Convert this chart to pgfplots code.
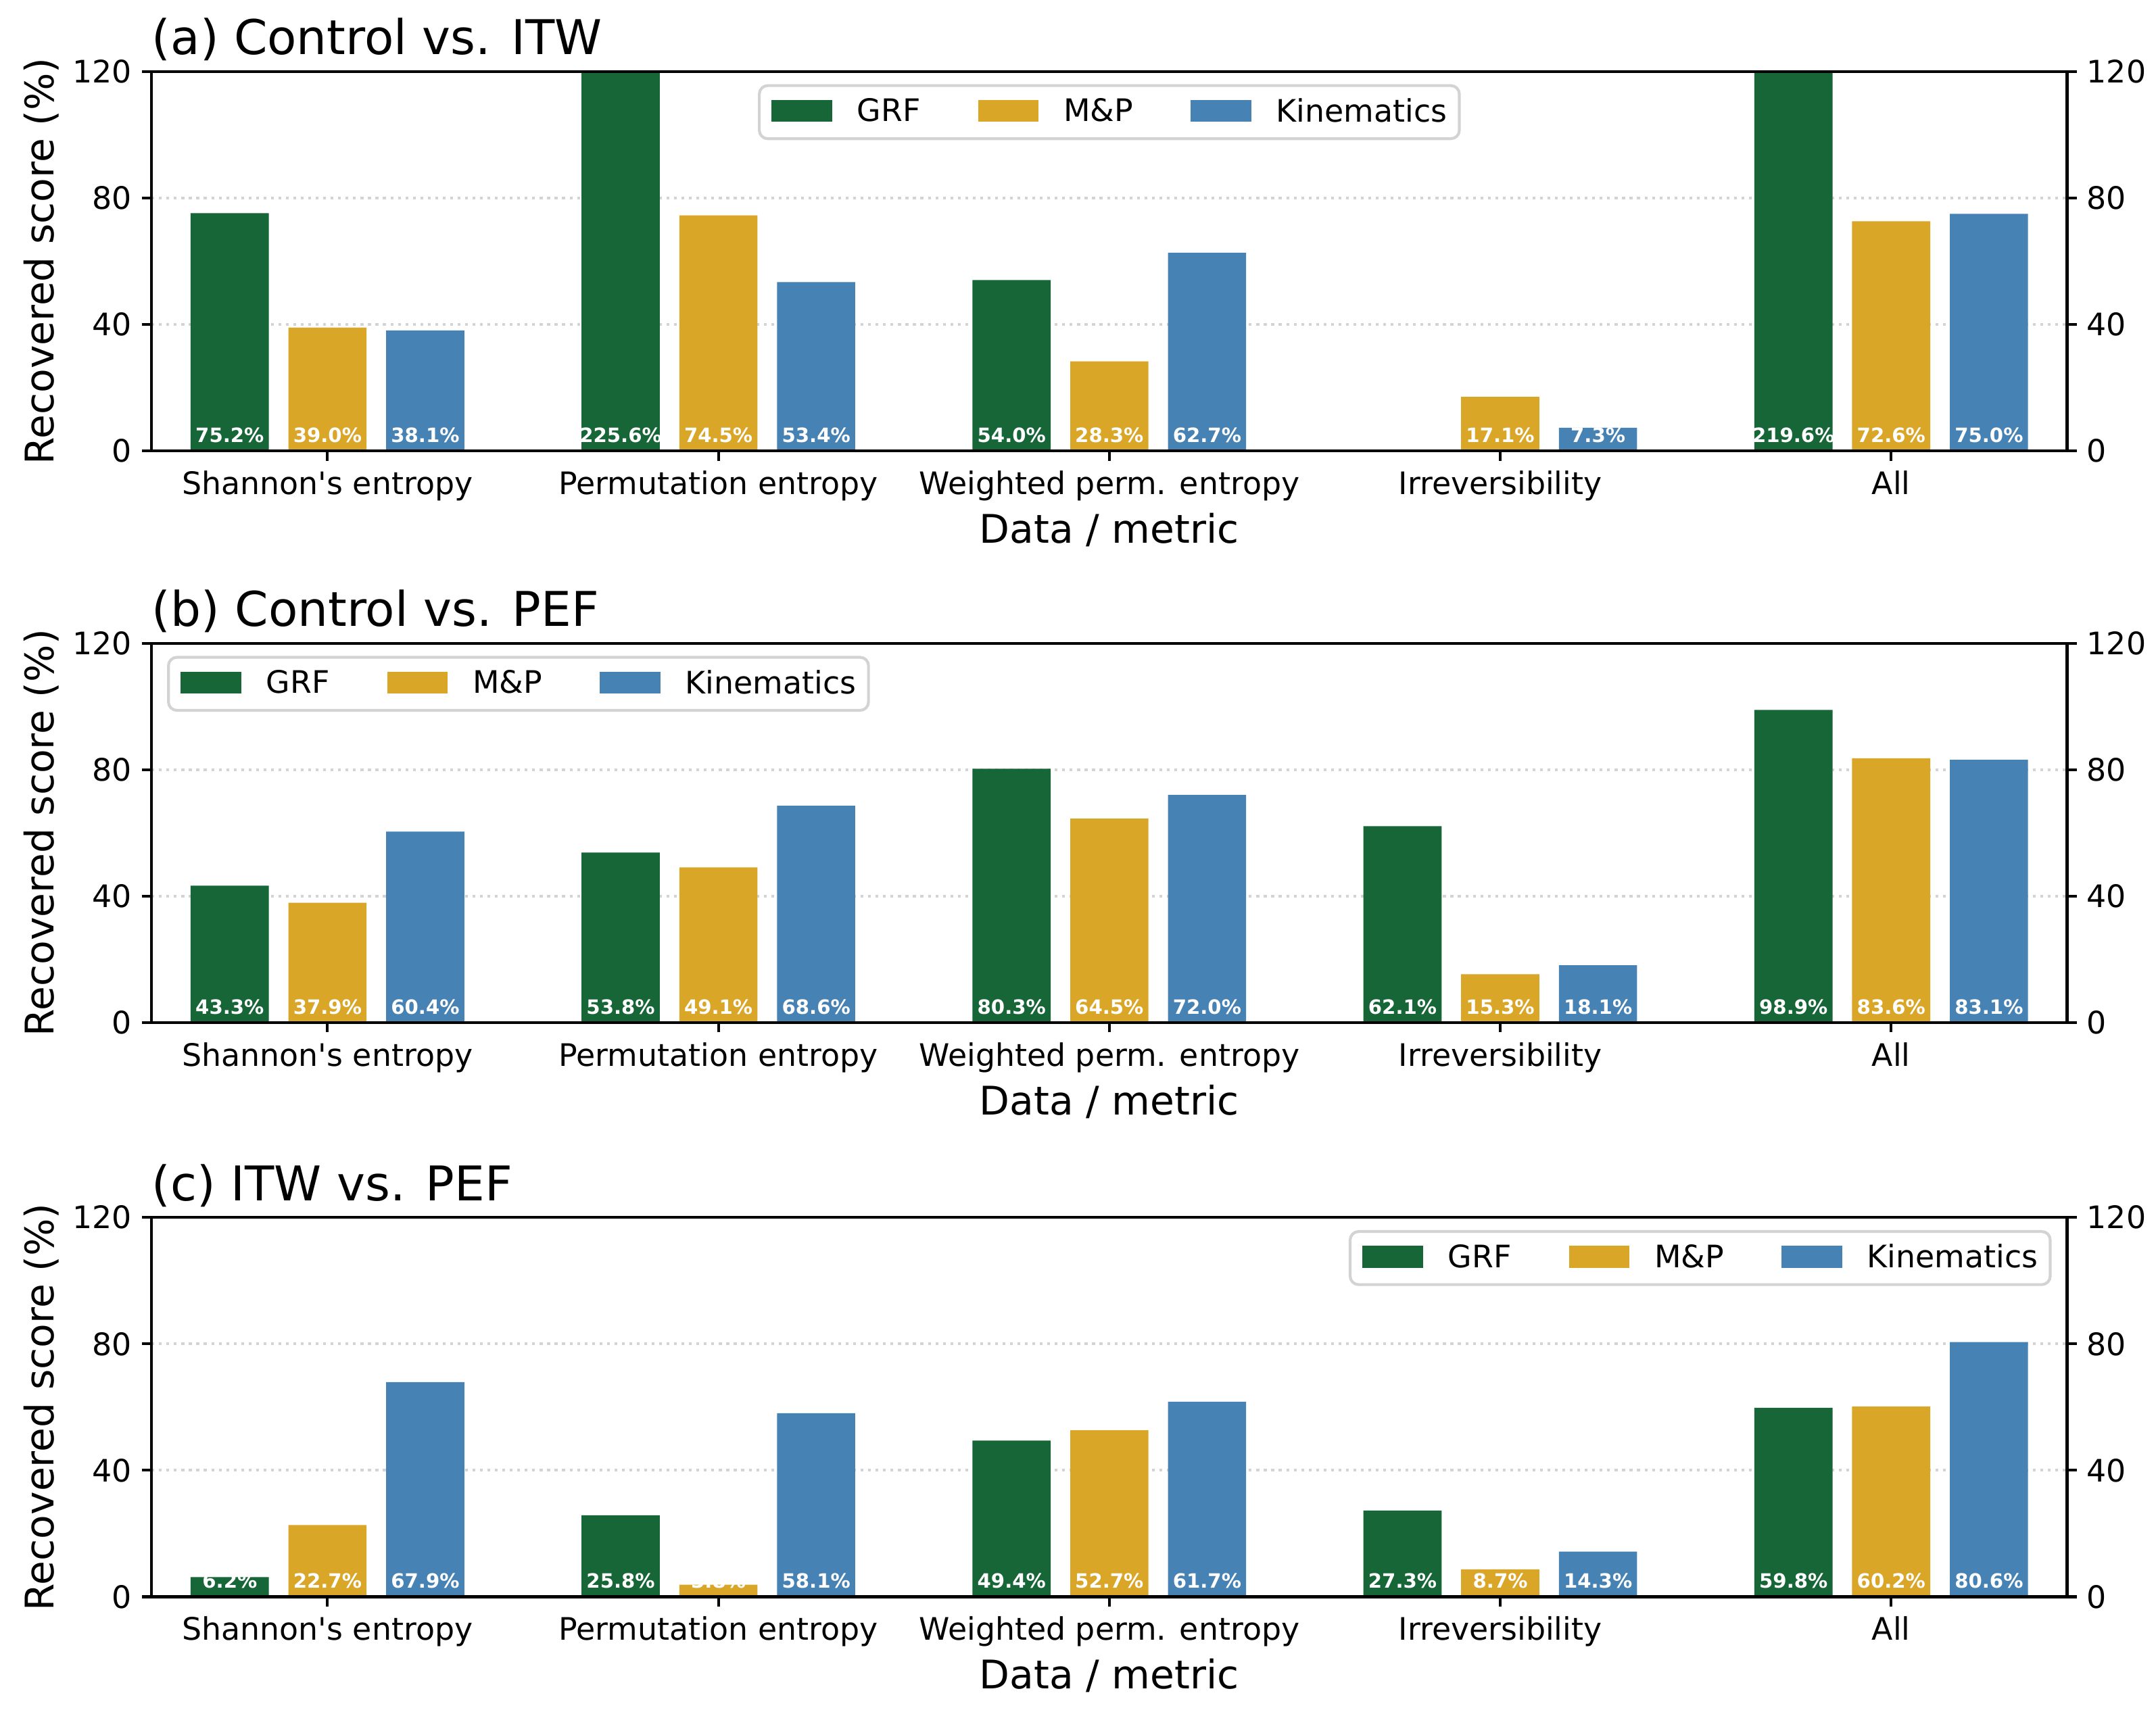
\documentclass[border=0pt]{standalone}
\usepackage{fontspec}
\setmainfont{DejaVu Sans}[Ligatures=TeXOff]
\usepackage{pgfplots}
\usepackage{pgfplotstable}
\pgfplotsset{compat=1.18}

\definecolor{cgrf}{HTML}{176638}
\definecolor{cmp}{HTML}{DAA628}
\definecolor{ckin}{HTML}{4682B4}
\definecolor{cgrid}{HTML}{D3D3D3}
\definecolor{cframe}{HTML}{D3D3D3}

\pgfplotstableread{
x grf mp kin
0 75.2 39.0 38.1
1 225.6 74.5 53.4
2 54.0 28.3 62.7
3 nan 17.1 7.3
4 219.6 72.6 75.0
}\dataA
\pgfplotstableread{
x grf mp kin
0 43.3 37.9 60.4
1 53.8 49.1 68.6
2 80.3 64.5 72.0
3 62.1 15.3 18.1
4 98.9 83.6 83.1
}\dataB
\pgfplotstableread{
x grf mp kin
0 6.2 22.7 67.9
1 25.8 3.8 58.1
2 49.4 52.7 61.7
3 27.3 8.7 14.3
4 59.8 60.2 80.6
}\dataC

\pgfplotsset{
  /pgf/number format/assume math mode=true,
  common/.style={
    scale only axis, width=680pt, height=134.7pt,
    xmin=-0.45, xmax=4.45, ymin=0, ymax=120,
    anchor=south west,
    tick align=outside, major tick length=3.5pt,
    every tick/.style={black, line width=1pt},
    axis line style={line width=1pt, black},
    tick label style={font=\fontsize{11}{13}\selectfont, black},
  },
  mainax/.style={common,
    xtick={0,1,2,3,4},
    xticklabels={Shannon's entropy, Permutation entropy, Weighted perm. entropy, Irreversibility, All},
    ytick={0,40,80,120},
    xtick pos=left, ytick pos=left,
    ymajorgrids,
    major grid style={cgrid, line width=1pt, dash pattern=on 1pt off 1.65pt},
    xlabel={Data / metric},
    ylabel={Recovered score (\%)},
    label style={font=\fontsize{14}{16}\selectfont},
    ylabel style={at={(axis description cs:-0.0576,0.5)}, anchor=center},
    xlabel style={at={(axis description cs:0.5,-0.243)}, anchor=base},
    title style={at={(0,1)}, anchor=base west, inner sep=0pt,
      font=\fontsize{17}{20}\selectfont},
    legend columns=3,
    legend cell align=left,
    legend style={draw=cframe, line width=1pt, rounded corners=3pt, fill=white,
      inner xsep=4.4pt, inner ysep=4.5pt,
      font=\fontsize{11}{13}\selectfont,
      nodes={inner sep=0pt},
      /tikz/every odd column/.append style={column sep=8.8pt},
      /tikz/every even column/.append style={column sep=20.5pt}},
  },
  rightax/.style={common,
    xtick=\empty, ytick={0,40,80,120},
    ytick pos=right, yticklabel pos=right,
  },
  sw/.style={legend image code/.code={\fill[##1, sharp corners] (0pt,-3.4pt) rectangle (21.5pt,4.3pt);}},
  bars/.style={ybar, bar width=0.2, bar shift=0pt, draw=none, sw},
  lbl/.style={draw=none, forget plot, point meta=explicit,
    nodes near coords={\pgfmathprintnumber[fixed, fixed zerofill, precision=1]{\pgfplotspointmeta}\%},
    nodes near coords style={white, font=\fontsize{7}{9}\selectfont\bfseries, anchor=base, yshift=3pt, inner sep=0pt}},
}

\newcommand{\panel}[4]{%
  \begin{axis}[mainax, at={(53.8pt,#1)}, title={#3}, legend style={#4}]
    \addplot[bars, fill=cgrf] table[x expr=\thisrow{x}-0.25, y=grf]{#2};
    \addlegendentry{GRF}
    \addplot[bars, fill=cmp] table[x expr=\thisrow{x}, y=mp]{#2};
    \addlegendentry{M\&P}
    \addplot[bars, fill=ckin] table[x expr=\thisrow{x}+0.25, y=kin]{#2};
    \addlegendentry{Kinematics}
    \addplot[lbl] table[x expr=\thisrow{x}-0.25, y expr=0*\thisrow{grf}, meta=grf]{#2};
    \addplot[lbl] table[x expr=\thisrow{x}, y expr=0*\thisrow{mp}, meta=mp]{#2};
    \addplot[lbl] table[x expr=\thisrow{x}+0.25, y expr=0*\thisrow{kin}, meta=kin]{#2};
  \end{axis}
  \begin{axis}[rightax, at={(53.8pt,#1)}]
  \end{axis}%
}

\begin{document}
\begin{tikzpicture}
\path[use as bounding box] (0,0) rectangle (765.36pt,607.2pt);
\panel{447.1pt}{\dataA}{(a) Control vs. ITW}{at={(0.5,1)}, anchor=north, yshift=-4.5pt}
\panel{244.1pt}{\dataB}{(b) Control vs. PEF}{at={(0,1)}, anchor=north west, xshift=5.5pt, yshift=-4.5pt}
\panel{40.2pt}{\dataC}{(c) ITW vs. PEF}{at={(1,1)}, anchor=north east, xshift=-5.5pt, yshift=-4.5pt}
\end{tikzpicture}
\end{document}
